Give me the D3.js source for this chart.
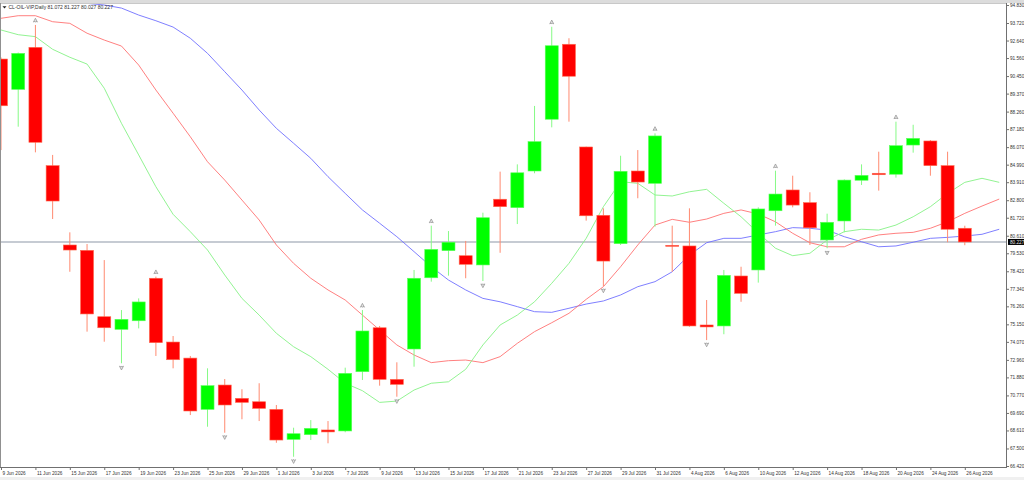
<!DOCTYPE html>
<html>
<head>
<meta charset="utf-8">
<script src="https://cdn.jsdelivr.net/npm/d3@7"></script>
<style>
  body { margin: 0; background: #ffffff; overflow: hidden; }
  text { font-family: "Liberation Sans", Arial, sans-serif; }
</style>
</head>
<body>
<script>
// daily bars, CL-OIL-VIP
var dates = ["9 Jun 2026","10 Jun 2026","11 Jun 2026","12 Jun 2026","15 Jun 2026","16 Jun 2026","17 Jun 2026","18 Jun 2026",
  "19 Jun 2026","22 Jun 2026","23 Jun 2026","24 Jun 2026","25 Jun 2026","26 Jun 2026","29 Jun 2026","30 Jun 2026",
  "1 Jul 2026","2 Jul 2026","3 Jul 2026","6 Jul 2026","7 Jul 2026","8 Jul 2026","9 Jul 2026","10 Jul 2026",
  "13 Jul 2026","14 Jul 2026","15 Jul 2026","16 Jul 2026","17 Jul 2026","20 Jul 2026","21 Jul 2026","22 Jul 2026",
  "23 Jul 2026","24 Jul 2026","27 Jul 2026","28 Jul 2026","29 Jul 2026","30 Jul 2026","31 Jul 2026","3 Aug 2026",
  "4 Aug 2026","5 Aug 2026","6 Aug 2026","7 Aug 2026","10 Aug 2026","11 Aug 2026","12 Aug 2026","13 Aug 2026",
  "14 Aug 2026","17 Aug 2026","18 Aug 2026","19 Aug 2026","20 Aug 2026","21 Aug 2026","24 Aug 2026","25 Aug 2026",
  "26 Aug 2026"];

var open  = [91.50,89.63,92.22,84.93,80.04,79.71,75.62,74.84,75.37,77.99,74.06,73.07,69.91,71.41,70.59,70.38,
  69.91,68.06,68.35,68.64,68.58,72.23,74.94,71.76,73.63,78.02,79.69,79.38,78.81,82.86,82.34,84.60,
  87.79,92.41,86.08,81.87,80.12,84.60,83.84,80.02,79.98,75.11,75.05,78.13,78.50,82.15,83.43,82.65,
  80.35,81.52,84.03,84.46,84.40,86.20,86.45,84.93,81.072];
var high  = [91.60,91.90,93.60,85.59,80.82,80.10,79.11,76.03,76.75,78.09,74.43,73.20,72.44,71.78,71.15,71.52,
  70.18,68.78,69.25,69.19,72.48,76.03,75.05,72.81,78.50,81.23,80.90,80.29,82.03,84.56,85.01,88.61,
  93.49,92.78,86.10,82.30,85.54,85.89,86.92,81.23,82.30,76.65,78.50,78.70,82.36,84.62,84.31,83.29,
  81.97,84.08,85.01,85.79,87.64,87.45,86.51,85.79,81.227];
var low   = [85.89,87.33,85.75,81.64,78.39,74.70,74.08,72.75,74.90,73.20,72.44,69.56,68.84,68.47,69.30,69.19,
  67.85,66.99,68.02,67.82,68.50,71.72,71.37,70.69,72.54,77.78,78.15,77.99,77.82,79.56,81.33,84.46,
  87.29,87.64,81.54,77.51,80.04,82.92,81.17,78.39,75.00,74.18,74.54,76.54,77.72,81.23,82.36,80.04,
  79.84,80.82,83.74,83.39,84.19,85.73,84.31,80.21,80.027];
var close = [88.62,91.85,86.37,82.75,79.73,75.79,74.94,75.46,76.53,74.02,72.97,69.81,71.37,70.18,70.34,69.97,
  68.02,68.41,68.74,68.52,72.13,74.74,71.76,71.45,77.99,79.77,80.21,78.85,81.72,82.40,84.49,86.41,
  92.32,90.44,81.84,79.05,84.58,83.92,86.76,79.99,75.05,74.99,78.17,77.06,82.26,83.18,82.50,81.10,
  81.44,84.04,84.33,84.37,86.16,86.61,84.93,81.01,80.227];

// alligator lines, read per bar (last two points run past the final bar)
var lips  = [93.29,93.00,92.88,92.10,91.61,91.19,89.70,87.54,85.59,83.63,81.93,80.86,79.73,78.19,76.75,75.72,
  74.60,73.77,73.16,72.38,71.52,71.06,70.34,70.42,71.10,71.52,71.61,72.38,73.88,75.11,75.72,76.54,
  77.68,78.91,80.45,82.40,83.94,83.84,83.12,83.06,83.32,83.47,82.61,81.78,80.78,79.84,79.38,79.53,
  80.35,80.86,81.01,80.96,81.27,81.78,82.40,83.22,83.90,84.15,83.90];
var teeth = [94.01,94.17,94.17,93.80,93.70,93.09,92.67,92.30,91.13,89.59,88.16,86.71,85.17,84.04,82.81,81.58,
  80.04,78.91,77.99,77.27,76.65,75.72,74.80,73.88,73.26,72.79,72.91,72.95,72.79,73.16,73.98,74.70,
  75.25,75.83,76.69,77.47,78.70,80.04,81.27,81.62,81.44,81.64,81.99,82.20,81.95,81.47,80.76,80.18,
  79.93,79.93,80.39,80.66,80.76,80.82,81.07,81.47,81.99,82.44,82.87];
var jaw   = [null,null,null,null,95.26,94.93,94.83,94.64,94.21,93.86,93.47,92.78,91.85,90.72,89.59,88.36,
  87.23,86.31,85.38,84.25,83.22,82.20,81.38,80.55,79.63,78.70,77.88,77.27,76.75,76.54,76.24,75.93,
  75.89,76.14,76.40,76.59,76.96,77.47,77.78,78.39,79.42,80.18,80.45,80.45,80.66,80.86,81.11,81.07,
  80.96,80.55,80.24,79.93,79.98,80.21,80.45,80.51,80.59,80.70,81.01];

var fractalUp   = [2, 9, 21, 25, 32, 38, 45, 52];
var fractalDown = [7, 13, 17, 23, 28, 35, 41, 48];

var priceTicks = ["94.830","93.720","92.640","91.560","90.450","89.370","88.260","87.180","86.070","84.990",
  "83.910","82.800","81.720","80.610","79.530","78.420","77.340","76.260","75.150","74.070","72.960",
  "71.880","70.770","69.690","68.610","67.500","66.420"];

var title = "CL-OIL-VIP,Daily 81.072 81.227 80.027 80.227";
var lastPrice = 80.227;

var W = 1024, H = 480;
var plotR = 1006, plotT = 3, plotB = 467;

var svg = d3.select('body').append('svg')
  .attr('width', W)
  .attr('height', H);

// window chrome
svg.append('rect').attr('x', 0).attr('y', 0).attr('width', W).attr('height', plotT).attr('fill', '#dcdcdc');
svg.append('rect').attr('x', 0).attr('y', 477).attr('width', W).attr('height', 3).attr('fill', '#f0f0f0');

var x = d3.scaleLinear().domain([0, 56]).range([1, 964.8]);
var y = d3.scaleLinear().domain([66.42, 94.83]).range([466, 5]);

svg.append('clipPath').attr('id', 'plot')
  .append('rect').attr('x', 0).attr('y', plotT).attr('width', plotR).attr('height', plotB - plotT);

var g = svg.append('g').attr('clip-path', 'url(#plot)');

// last price line
g.append('line')
  .attr('x1', 0).attr('x2', plotR)
  .attr('y1', y(lastPrice)).attr('y2', y(lastPrice))
  .style('stroke', '#b3bac4')
  .style('stroke-width', 1.5);

// alligator
var lineGen = d3.line()
  .defined(function(d) { return d != null; })
  .x(function(d, i) { return x(i); })
  .y(function(d) { return y(d); });

[[jaw, '#7070ff'], [teeth, '#ff7272'], [lips, '#86f286']].forEach(function(s) {
  g.append('path')
    .datum(s[0])
    .attr('d', lineGen)
    .style('fill', 'none')
    .style('stroke', s[1])
    .style('stroke-width', 0.9);
});

var bars = dates.map(function(d, i) {
  return { date: d, i: i, o: open[i], h: high[i], l: low[i], c: close[i] };
});

var bw = 13;

g.selectAll('line.wick')
  .data(bars)
  .enter()
  .append('line')
  .attr('class', 'wick')
  .attr('x1', function(d) { return x(d.i); })
  .attr('x2', function(d) { return x(d.i); })
  .attr('y1', function(d) { return y(d.h); })
  .attr('y2', function(d) { return y(d.l); })
  .style('stroke', function(d) { return d.c >= d.o ? '#86fa86' : '#ff8a70'; })
  .style('stroke-width', 1);

g.selectAll('rect.body')
  .data(bars)
  .enter()
  .append('rect')
  .attr('class', 'body')
  .attr('x', function(d) { return x(d.i) - bw / 2; })
  .attr('width', bw)
  .attr('y', function(d) { return y(Math.max(d.o, d.c)); })
  .attr('height', function(d) { return Math.max(1, Math.abs(y(d.o) - y(d.c))); })
  .style('fill', function(d) { return d.c >= d.o ? '#00ff00' : '#ff0000'; })
  .style('stroke', function(d) { return d.c >= d.o ? '#5cff5c' : '#ff6a50'; })
  .style('stroke-width', 0.6);

// fractal arrows (outlined arrowheads)
var upArrow = 'M0,-2.2L-2,1.6L-0.6,0.9L0,1.8L0.6,0.9L2,1.6Z';
g.selectAll('path.fup')
  .data(fractalUp)
  .enter()
  .append('path')
  .attr('class', 'fup')
  .attr('d', upArrow)
  .attr('transform', function(i) { return 'translate(' + x(i) + ',' + (y(high[i]) - 4.5) + ')'; })
  .style('fill', '#e4e4e4')
  .style('stroke', '#909090')
  .style('stroke-width', 0.7);

g.selectAll('path.fdn')
  .data(fractalDown)
  .enter()
  .append('path')
  .attr('class', 'fdn')
  .attr('d', upArrow)
  .attr('transform', function(i) { return 'translate(' + x(i) + ',' + (y(low[i]) + 4.5) + ') rotate(180)'; })
  .style('fill', '#e4e4e4')
  .style('stroke', '#909090')
  .style('stroke-width', 0.7);

// plot frame
svg.append('line').attr('x1', 0).attr('x2', plotR).attr('y1', plotT + 0.5).attr('y2', plotT + 0.5)
  .style('stroke', '#c8c8c8');
svg.append('line').attr('x1', 0.5).attr('x2', 0.5).attr('y1', plotT).attr('y2', plotB)
  .style('stroke', '#909090');

// price axis
var yAxis = d3.axisRight(y)
  .tickValues(priceTicks.map(Number))
  .tickSize(3)
  .tickFormat(function(d, i) { return priceTicks[i]; });

var ya = svg.append('g')
  .attr('transform', 'translate(' + plotR + ',0)')
  .call(yAxis);
ya.select('.domain').attr('d', 'M0.5,' + plotT + 'V' + plotB).style('stroke', '#707070');
ya.selectAll('.tick line').style('stroke', '#707070');
ya.selectAll('.tick text')
  .attr('x', 4)
  .style('font-size', '4.7px')
  .style('fill', '#333333');

// time axis
var xTicks = d3.range(0, dates.length, 2);
var xAxis = d3.axisBottom(x)
  .tickValues(xTicks)
  .tickSize(3)
  .tickFormat(function(d) { return dates[d]; });

var xa = svg.append('g')
  .attr('transform', 'translate(0,' + plotB + ')')
  .call(xAxis);
xa.select('.domain').attr('d', 'M0,0.5H' + (plotR + 1)).style('stroke', '#707070');
xa.selectAll('.tick line').style('stroke', '#707070');
xa.selectAll('.tick text')
  .attr('y', 5)
  .attr('dy', '0.6em')
  .attr('x', 1)
  .style('text-anchor', 'start')
  .style('font-size', '4.7px')
  .style('fill', '#333333');

// last price tag
svg.append('rect')
  .attr('x', plotR + 2).attr('y', y(lastPrice) - 3)
  .attr('width', W - plotR - 2).attr('height', 6)
  .style('fill', '#000000');
svg.append('text')
  .attr('x', plotR + 4).attr('y', y(lastPrice) + 1.7)
  .style('font-size', '4.7px')
  .style('fill', '#e8e8e8')
  .text(lastPrice.toFixed(3));

// title
svg.append('path')
  .attr('d', 'M2.5,6.2L6.5,6.2L4.5,8.6Z')
  .style('fill', '#202020');
svg.append('text')
  .attr('x', 8.5).attr('y', 8.6)
  .style('font-size', '5px')
  .style('fill', '#303030')
  .text(title);
</script>
</body>
</html>
